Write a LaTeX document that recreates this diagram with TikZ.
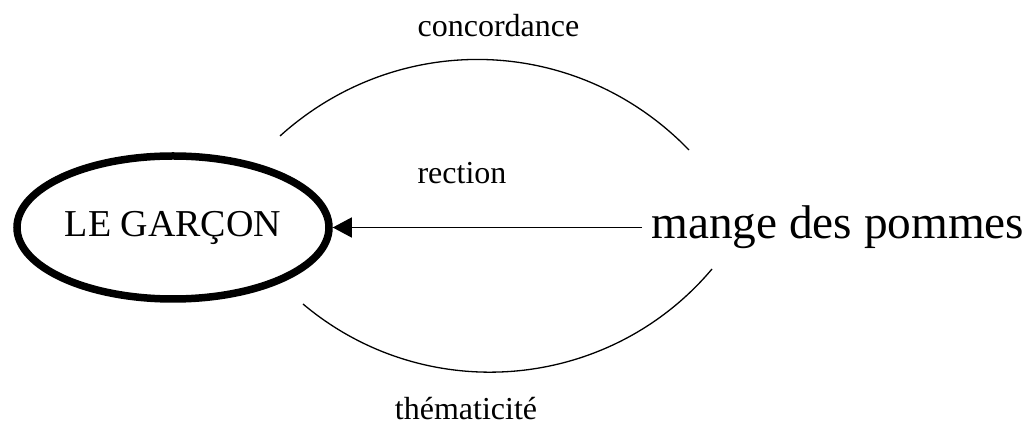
\documentclass[tikz,border=0pt]{standalone}
\usepackage{fontspec}
\setmainfont{Liberation Serif}
\usetikzlibrary{arrows.meta,positioning,shapes.geometric}

\begin{document}
\begin{tikzpicture}[
    x=1pt, y=1pt,
    sujet/.style={draw, ellipse, line width=7.5pt, minimum width=312pt, minimum height=143pt, inner sep=0pt, font=\fontsize{38}{44}\selectfont},
    verbe/.style={inner sep=0pt, inner xsep=9pt, font=\fontsize{47.3}{54}\selectfont},
    lbl/.style={inner sep=0pt, font=\fontsize{32}{38}\selectfont},
    lien/.style={line width=1.3pt},
]
\useasboundingbox (0,0) rectangle (1031,425);
\node[sujet] (garcon) at (173,197.5) {LE GARÇON};
\node[verbe, anchor=west] (pommes) at (642,197.5) {mange des pommes};
\draw[lien, -{Triangle[length=19pt, width=20pt]}] (pommes.west) -- (garcon.east);
\node[lbl, anchor=base] (concordance) at (498.5,388) {concordance};
\node[lbl, anchor=base] (rection) at (462,241) {rection};
\node[lbl, anchor=base] (thematicite) at (466,5) {thématicité};
\coordinate (h1) at (280,289);
\coordinate (h2) at (689,275);
\coordinate (b1) at (303,121);
\coordinate (b2) at (712,156);
\draw[lien] (h1) to[bend left=44] (h2);
\draw[lien] (b1) to[bend right=45] (b2);
\end{tikzpicture}
\end{document}
